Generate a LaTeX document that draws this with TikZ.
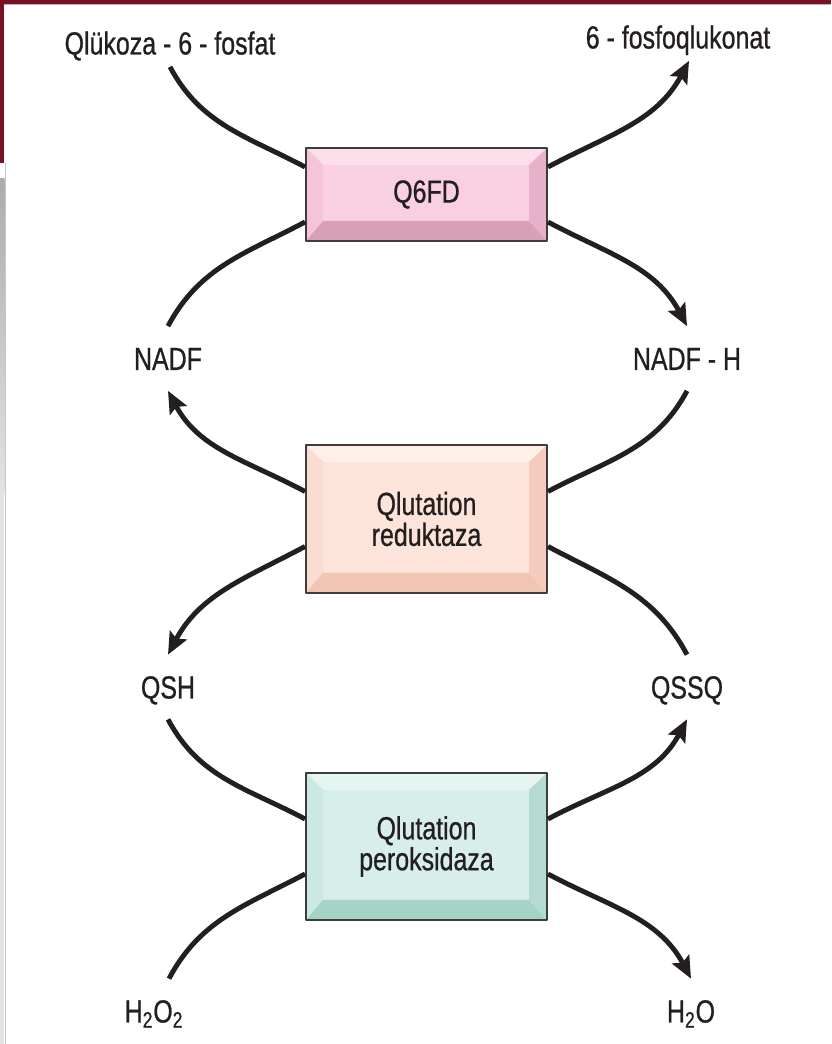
\documentclass[tikz,border=0pt]{standalone}
\usepackage{fontspec}
\setmainfont[FakeStretch=0.78,FakeBold=0.7]{Liberation Sans}
\usetikzlibrary{arrows.meta}
\definecolor{frame}{HTML}{7A1024}
\definecolor{ink}{HTML}{231F20}
\definecolor{boxline}{HTML}{3C3C3C}
\definecolor{pinkface}{HTML}{F8D0E2}
\definecolor{pinktop}{HTML}{FBDFEB}
\definecolor{pinkleft}{HTML}{F6C4D9}
\definecolor{pinkbot}{HTML}{D89FB7}
\definecolor{pinkright}{HTML}{E6B1C9}
\definecolor{peachface}{HTML}{FDE4DA}
\definecolor{peachtop}{HTML}{FEEFE9}
\definecolor{peachleft}{HTML}{FBDCD0}
\definecolor{peachbot}{HTML}{F2C4B2}
\definecolor{peachright}{HTML}{F4CBBD}
\definecolor{tealface}{HTML}{D7EEEA}
\definecolor{tealtop}{HTML}{E5F5F2}
\definecolor{tealleft}{HTML}{CBE8E2}
\definecolor{tealbot}{HTML}{A6D3C8}
\definecolor{tealright}{HTML}{B5DAD2}
\newcommand\labelfont{\fontsize{18.2pt}{17.6pt}\selectfont}
\tikzset{
  lbl/.style={font=\labelfont, text=ink, text height=.46cm, text depth=0pt,
    inner xsep=0pt, inner ysep=.41cm},
  enzyme/.style n args={5}{draw=boxline, line width=1.1pt, fill=#1,
    minimum width=4.82cm, font=\labelfont, text=ink, align=center,
    path picture={
      \coordinate (a) at (path picture bounding box.north west);
      \coordinate (b) at (path picture bounding box.north east);
      \coordinate (c) at (path picture bounding box.south east);
      \coordinate (d) at (path picture bounding box.south west);
      \coordinate (a1) at ([shift={(.34,-.34)}]a);
      \coordinate (b1) at ([shift={(-.36,-.34)}]b);
      \coordinate (c1) at ([shift={(-.36,.4)}]c);
      \coordinate (d1) at ([shift={(.34,.4)}]d);
      \fill[#2] (a) -- (b) -- (b1) -- (a1) -- cycle;
      \fill[#3] (a) -- (a1) -- (d1) -- (d) -- cycle;
      \fill[#4] (d) -- (d1) -- (c1) -- (c) -- cycle;
      \fill[#5] (b) -- (c) -- (c1) -- (b1) -- cycle;
    }},
  pinkbox/.style={enzyme={pinkface}{pinktop}{pinkleft}{pinkbot}{pinkright}},
  peachbox/.style={enzyme={peachface}{peachtop}{peachleft}{peachbot}{peachright}},
  tealbox/.style={enzyme={tealface}{tealtop}{tealleft}{tealbot}{tealright}},
  react/.style={draw=ink, line width=2.8pt},
  prod/.style={react, -{Stealth[length=.44cm,width=.38cm,inset=.08cm]}},
}
\begin{document}
\begin{tikzpicture}[line join=round]
  \useasboundingbox (0,0) rectangle (16.62,20.88);
  \fill[frame] (0,20.80) rectangle (16.62,20.88);
  \draw[gray!60, line width=.4pt] (0,20.79) -- (16.62,20.79);
  \fill[frame] (0,17.62) rectangle (.09,20.88);
  \shade[top color=gray!65, bottom color=gray!22] (0,11) rectangle (.09,17.3);
  \fill[gray!22] (0,0) rectangle (.09,11);
  \draw[gray!45, line width=.4pt] (.11,0) -- (.11,17.62);

  \node[pinkbox, minimum height=1.86cm] (q6fd) at (8.53,16.99) {Q6FD};
  \node[peachbox, minimum height=2.96cm] (gr) at (8.53,10.5) {Qlutation\\reduktaza};
  \node[tealbox, minimum height=2.94cm] (gp) at (8.53,3.95) {Qlutation\\peroksidaza};

  \node[lbl, inner ysep=.24cm] (g6p) at (3.40,20.02) {Qlükoza - 6 - fosfat};
  \node[lbl, inner ysep=.24cm] (pgl) at (13.56,20.14) {6 - fosfoqlukonat};
  \node[lbl] (nadp) at (3.36,13.71) {NADF};
  \node[lbl] (nadph) at (13.74,13.71) {NADF - H};
  \node[lbl] (gsh) at (3.36,7.14) {QSH};
  \node[lbl] (gssg) at (13.74,7.14) {QSSQ};
  \node[lbl] (h2o2) at (3.08,.66) {H\textsubscript{2}O\textsubscript{2}};
  \node[lbl] (h2o) at (13.82,.66) {H\textsubscript{2}O};

  \draw[react] (g6p.south) to[out=-62,in=152] ([yshift=.55cm]q6fd.west);
  \draw[prod] ([yshift=.55cm]q6fd.east) to[out=28,in=-118] ([xshift=.22cm]pgl.south);
  \draw[react] (nadp.north) to[out=62,in=-152] ([yshift=-.55cm]q6fd.west);
  \draw[prod] ([yshift=-.55cm]q6fd.east) to[out=-28,in=118] (nadph.north);
  \draw[prod] ([yshift=.55cm]gr.west) to[out=152,in=-62] (nadp.south);
  \draw[react] (nadph.south) to[out=-118,in=28] ([yshift=.55cm]gr.east);
  \draw[prod] ([yshift=-.55cm]gr.west) to[out=-152,in=62] (gsh.north);
  \draw[react] (gssg.north) to[out=118,in=-28] ([yshift=-.55cm]gr.east);
  \draw[react] (gsh.south) to[out=-62,in=152] ([yshift=.55cm]gp.west);
  \draw[prod] ([yshift=.55cm]gp.east) to[out=28,in=-118] (gssg.south);
  \draw[react] ([xshift=.3cm]h2o2.north) to[out=62,in=-152] ([yshift=-.55cm]gp.west);
  \draw[prod] ([yshift=-.55cm]gp.east) to[out=-28,in=118] (h2o.north);
\end{tikzpicture}
\end{document}
